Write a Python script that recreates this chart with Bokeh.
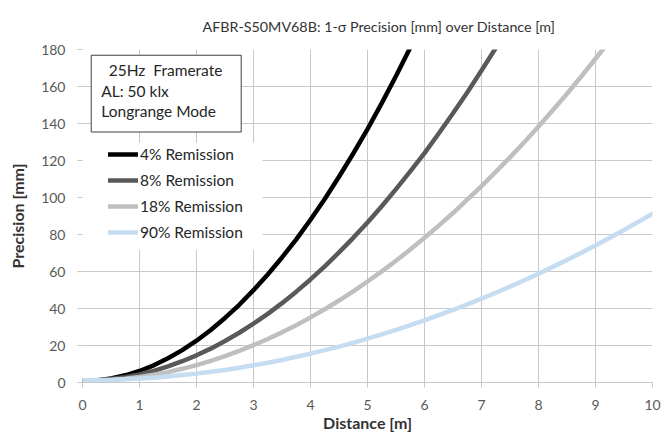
from bokeh.plotting import figure
from bokeh.models import Legend, LegendItem, BoxAnnotation, Label, Range1d, FixedTicker
from bokeh.embed import file_html
from bokeh.resources import INLINE

# ---- data ----
dist_4 = [0, 0.25, 0.5, 0.75, 1, 1.25, 1.5, 1.75, 2, 2.25, 2.5, 2.75, 3, 3.25, 3.5, 3.75,
          4, 4.25, 4.5, 4.75, 5, 5.25, 5.5, 5.75, 6]
prec_4 = [0.8, 1.1, 2.2, 3.9, 6.2, 9.3, 13.1, 17.5, 22.6, 28.4, 34.9, 42, 49.9, 58.4, 67.6, 77.4,
          88, 99.2, 111.2, 123.8, 137, 151, 165.7, 181, 197]

dist_8 = [0, 0.25, 0.5, 0.75, 1, 1.25, 1.5, 1.75, 2, 2.25, 2.5, 2.75, 3, 3.25, 3.5, 3.75,
          4, 4.25, 4.5, 4.75, 5, 5.25, 5.5, 5.75, 6, 6.25, 6.5, 6.75, 7, 7.25, 7.5]
prec_8 = [1, 1.2, 1.9, 2.9, 4.4, 6.3, 8.7, 11.5, 14.7, 18.3, 22.4, 26.9, 31.8, 37.1, 42.9, 49.1,
          55.7, 62.8, 70.3, 78.2, 86.5, 95.3, 104.5, 114.1, 124, 134.6, 145.5, 156.8, 168.6, 180.8, 193.4]

dist_18 = [0, 0.25, 0.5, 0.75, 1, 1.25, 1.5, 1.75, 2, 2.25, 2.5, 2.75, 3, 3.25, 3.5, 3.75,
           4, 4.25, 4.5, 4.75, 5, 5.25, 5.5, 5.75, 6, 6.25, 6.5, 6.75, 7, 7.25, 7.5, 7.75,
           8, 8.25, 8.5, 8.75, 9, 9.25, 9.5]
prec_18 = [0.8, 0.9, 1.3, 2, 3, 4.2, 5.6, 7.4, 9.4, 11.7, 14.2, 17.1, 20.2, 23.5, 27.1, 31,
           35.2, 39.6, 44.3, 49.3, 54.6, 60.1, 65.8, 71.9, 78.2, 84.8, 91.6, 98.8, 106.2, 113.8, 121.7, 129.9,
           138.4, 147.1, 156.1, 165.4, 175, 184.8, 194.8]

dist_90 = [0, 0.25, 0.5, 0.75, 1, 1.25, 1.5, 1.75, 2, 2.25, 2.5, 2.75, 3, 3.25, 3.5, 3.75,
           4, 4.25, 4.5, 4.75, 5, 5.25, 5.5, 5.75, 6, 6.25, 6.5, 6.75, 7, 7.25, 7.5, 7.75,
           8, 8.25, 8.5, 8.75, 9, 9.25, 9.5, 9.75, 10]
prec_90 = [1.2, 1.3, 1.4, 1.7, 2.1, 2.6, 3.2, 4, 4.8, 5.8, 6.8, 8, 9.3, 10.7, 12.2, 13.9,
           15.6, 17.5, 19.4, 21.5, 23.7, 26, 28.4, 31, 33.6, 36.4, 39.2, 42.2, 45.3, 48.5, 51.8, 55.3,
           58.8, 62.5, 66.2, 70.1, 74.1, 78.2, 82.4, 86.8, 91.2]

series_names = ["4% Remission", "8% Remission", "18% Remission", "90% Remission"]
series_colors = ["#000000", "#595959", "#bfbfbf", "#c6dcf1"]

x_ticks = [0, 1, 2, 3, 4, 5, 6, 7, 8, 9, 10]
y_ticks = [0, 20, 40, 60, 80, 100, 120, 140, 160, 180]

title_text = "AFBR-S50MV68B: 1-σ Precision [mm] over Distance [m]"
note_lines = ["25Hz\u00a0 Framerate", "AL: 50 klx", "Longrange Mode"]

FONT = "Lato"
GRID = "#c8c8c8"

p = figure(width=661, height=435, output_backend="svg", toolbar_location=None,
           x_range=Range1d(0, 10), y_range=Range1d(0, 180),
           min_border_left=82, min_border_right=9, min_border_top=46, min_border_bottom=53)
p.title.text = title_text
p.title.align = "left"
p.title.offset = 120
p.title.text_font = FONT
p.title.text_font_size = "14.3px"
p.title.text_font_style = "normal"
p.title.text_color = "#333333"
p.title.standoff = 30

p.outline_line_color = None
p.background_fill_color = "white"
p.border_fill_color = "white"

for ax in (p.xaxis[0], p.yaxis[0]):
    ax.major_label_text_font = FONT
    ax.major_label_text_font_size = "14px"
    ax.major_label_text_color = "#595959"
    ax.axis_label_text_font = FONT
    ax.axis_label_text_font_style = "bold"
    ax.axis_label_text_font_size = "16px"
    ax.axis_label_text_color = "#333333"
    ax.major_tick_line_color = GRID
    ax.major_tick_out = 5
    ax.major_tick_in = 0
    ax.minor_tick_line_color = None

p.xaxis.ticker = FixedTicker(ticks=x_ticks)
p.yaxis.ticker = FixedTicker(ticks=y_ticks)
p.xaxis.axis_label = "Distance [m]"
p.yaxis.axis_label = "Precision [mm]"
p.xaxis.axis_line_color = GRID
p.yaxis.axis_line_color = None
p.xaxis.major_label_standoff = 12
p.yaxis.major_label_standoff = 12
p.xaxis.axis_label_standoff = 0
p.yaxis.axis_label_standoff = 11

p.xgrid.ticker = FixedTicker(ticks=x_ticks)
p.ygrid.ticker = FixedTicker(ticks=y_ticks)
p.grid.grid_line_color = GRID
p.grid.grid_line_width = 1

renderers = []
for xs, ys, c in zip([dist_4, dist_8, dist_18, dist_90],
                     [prec_4, prec_8, prec_18, prec_90], series_colors):
    r = p.line(xs, ys, line_color=c, line_width=4.5, line_cap="round", line_join="round")
    renderers.append(r)

# white area behind legend (covers grid)
p.add_layout(BoxAnnotation(left=0, right=3.16, bottom=71.8, top=129.6,
                           fill_color="white", fill_alpha=1, line_color=None))
# note box
p.add_layout(BoxAnnotation(left=0.153, right=2.784, bottom=135.4, top=176.9,
                           fill_color="white", fill_alpha=1, line_color="#404040",
                           line_alpha=1, line_width=1))
for txt, xx, yy in zip(note_lines, [0.46, 0.33, 0.33], [169, 157.3, 146.6]):
    p.add_layout(Label(x=xx, y=yy, text=txt, text_font=FONT, text_font_size="15.5px",
                       text_color="#262626", text_baseline="middle"))

legend = Legend(items=[LegendItem(label=n, renderers=[r]) for n, r in zip(series_names, renderers)],
                location=(26, 140), orientation="vertical",
                glyph_width=30, glyph_height=20, label_height=20, spacing=6,
                label_standoff=2, padding=4, margin=0,
                background_fill_alpha=0, border_line_color=None,
                label_text_font=FONT, label_text_font_size="15.5px", label_text_color="#262626")
p.add_layout(legend)

open("out.html", "w").write(file_html(p, INLINE))
